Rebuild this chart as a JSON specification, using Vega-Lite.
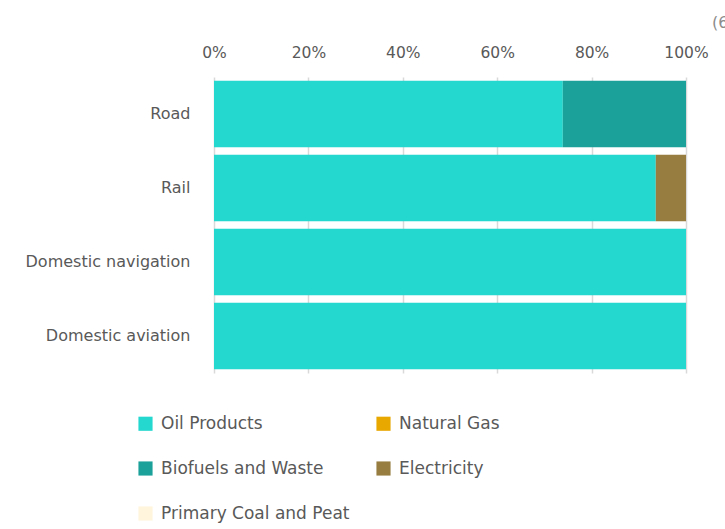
{
  "$schema": "https://vega.github.io/schema/vega-lite/v6.json",
  "width": 472,
  "height": 296,
  "autosize": {"type": "none"},
  "padding": {"left": 214, "top": 77, "right": 39, "bottom": 156},
  "background": "white",
  "title": {"text": "(6", "anchor": "end", "align": "left", "frame": "group", "dx": 26, "offset": 14, "fontSize": 16, "font": "DejaVu Sans", "fontWeight": "normal", "color": "#8c8c8c"},
  "config": {"view": {"stroke": null}, "font": "DejaVu Sans"},
  "data": {"values": [
    {"mode": "Road", "fuel": "Oil Products", "share": 73.9, "ord": 1},
    {"mode": "Road", "fuel": "Biofuels and Waste", "share": 26.1, "ord": 3},
    {"mode": "Rail", "fuel": "Oil Products", "share": 93.6, "ord": 1},
    {"mode": "Rail", "fuel": "Electricity", "share": 6.4, "ord": 4},
    {"mode": "Domestic navigation", "fuel": "Oil Products", "share": 100, "ord": 1},
    {"mode": "Domestic aviation", "fuel": "Oil Products", "share": 100, "ord": 1}
  ]},
  "mark": {"type": "bar"},
  "encoding": {
    "y": {"field": "mode", "type": "nominal", "sort": ["Road", "Rail", "Domestic navigation", "Domestic aviation"],
      "scale": {"paddingInner": 0.1, "paddingOuter": 0.05},
      "axis": {"title": null, "ticks": false, "domain": false, "labelFontSize": 16, "labelColor": "#595959", "labelPadding": 24, "labelDy": 2}},
    "x": {"field": "share", "type": "quantitative", "stack": "normalize",
      "scale": {"domain": [0, 1]},
      "axis": {"orient": "top", "title": null, "format": "%", "values": [0, 0.2, 0.4, 0.6, 0.8, 1], "ticks": false, "domain": false,
        "labelFontSize": 15.5, "labelColor": "#595959", "labelPadding": 17, "grid": true, "gridColor": "#d9d9d9", "gridWidth": 1.5, "labelFlush": false}},
    "color": {"field": "fuel", "type": "nominal",
      "scale": {"domain": ["Oil Products", "Natural Gas", "Biofuels and Waste", "Electricity", "Primary Coal and Peat"],
        "range": ["#24d7cf", "#e8a800", "#1ba19a", "#977d40", "#fff5dc"]},
      "legend": {"title": null, "orient": "none", "legendX": -77, "legendY": 338, "columns": 2, "direction": "horizontal", "gridAlign": "all",
        "symbolType": "square", "symbolSize": 200, "symbolStrokeWidth": 0, "labelFontSize": 17, "labelColor": "#595959",
        "labelOffset": 7, "rowPadding": 27, "columnPadding": 25, "labelLimit": 300}},
    "order": {"field": "ord", "type": "quantitative"}
  }
}
